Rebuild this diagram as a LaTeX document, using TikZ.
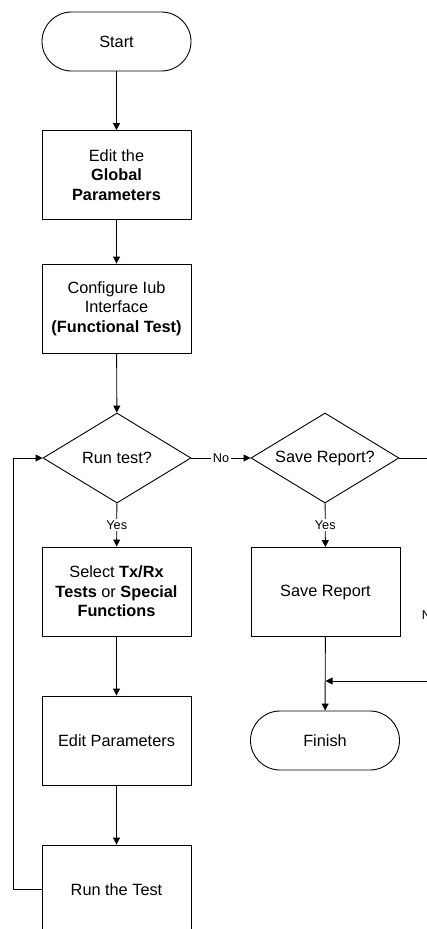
\documentclass[tikz,border=0pt]{standalone}
\usepackage{fontspec}
\setmainfont{Liberation Sans}
\usetikzlibrary{shapes.geometric,arrows.meta}
\begin{document}
\begin{tikzpicture}[x=1pt,y=-1pt,
  every node/.style={font=\fontsize{16.3}{19.6}\selectfont, align=center, inner sep=0pt},
  stepbox/.style={draw, line width=0.9pt, minimum width=149pt, minimum height=89pt},
  term/.style={draw, line width=0.9pt, rounded corners=29.5pt, minimum width=149pt, minimum height=59pt},
  decision/.style={draw, line width=0.9pt, diamond, aspect=1.63, minimum width=148pt, minimum height=90pt},
  conn/.style={line width=0.9pt, -{Triangle[length=7pt,width=7pt]}},
  plain/.style={line width=0.9pt},
  lbl/.style={fill=white, font=\fontsize{12.7}{14}\selectfont, inner sep=1.5pt}]
\useasboundingbox (0,0) rectangle (427,929);
\clip (0,0) rectangle (427,929);
\fill[white] (0,0) rectangle (427,929);

% left column
\node[term]    (start)  at (116.5,41.5)  {Start};
\node[stepbox] (global) at (116.5,175)   {Edit the\\\textbf{Global}\\\textbf{Parameters}};
\node[stepbox] (config) at (116.5,308.5) {Configure Iub\\Interface\\\textbf{(Functional Test)}};
\node[decision] (run)   at (117,458)     {Run test?};
\node[stepbox] (select) at (116.5,591.5) {Select \textbf{Tx/Rx}\\\textbf{Tests} or \textbf{Special}\\\textbf{Functions}};
\node[stepbox] (editp)  at (116.5,740.5) {Edit Parameters};
\node[stepbox] (runit)  at (116.5,889.5) {Run the Test};

% right column
\node[decision] (save)    at (325,458)   {Save Report?};
\node[stepbox]  (savebox) at (325.5,592) {Save Report};
\node[term]     (finish)  at (325,740.5) {Finish};

\coordinate (loopx) at (13,889.5);
\coordinate (outx)  at (430,458);
\coordinate (joinx) at (325.5,681);

% connectors
\draw[conn] (start) -- (global);
\draw[conn] (global) -- (config);
\draw[conn] (config) -- (run);
\draw[conn] (run) -- node[lbl, pos=0.5] {Yes} (select);
\draw[conn] (select) -- (editp);
\draw[conn] (editp) -- (runit);
\draw[conn] (runit.west) -- (loopx) |- (run.west);
\draw[conn] (run.east) -- node[lbl] {No} (save.west);
\draw[conn] (save) -- node[lbl] {Yes} (savebox);
\draw[conn] (savebox) -- (finish);
\draw[conn] (save.east) -- (outx) -- node[lbl, pos=0.705] {No} (outx |- joinx) -- (joinx);
\end{tikzpicture}
\end{document}
